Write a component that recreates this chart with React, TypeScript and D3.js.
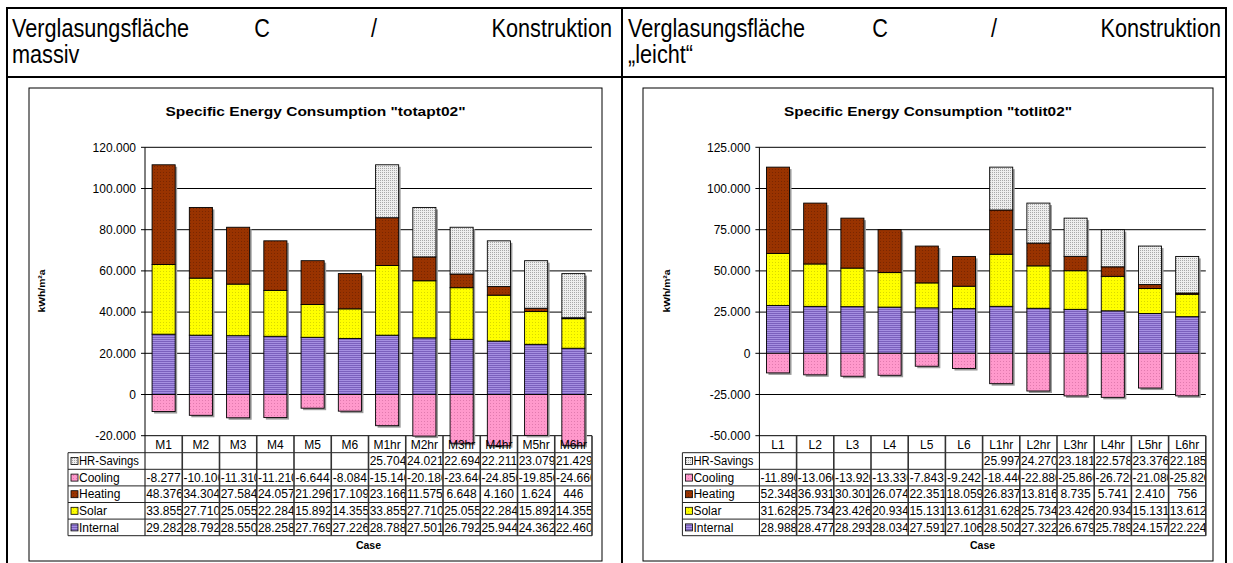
import React from "react";
import * as d3 from "d3";

const seriesNames = ["HR-Savings", "Cooling", "Heating", "Solar", "Internal"];

const leftCases = ["M1", "M2", "M3", "M4", "M5", "M6", "M1hr", "M2hr", "M3hr", "M4hr", "M5hr", "M6hr"];
const leftHR = [null, null, null, null, null, null, 25704, 24021, 22694, 22211, 23079, 21429];
const leftCooling = [-8277, -10100, -11310, -11210, -6644, -8084, -15140, -20180, -23640, -24850, -19850, -24660];
const leftHeating = [48376, 34304, 27584, 24057, 21296, 17109, 23166, 11575, 6648, 4160, 1624, 446];
const leftSolar = [33855, 27710, 25055, 22284, 15892, 14355, 33855, 27710, 25055, 22284, 15892, 14355];
const leftInternal = [29282, 28792, 28550, 28258, 27769, 27226, 28788, 27501, 26792, 25944, 24362, 22460];
const leftTicks = [-20000, 0, 20000, 40000, 60000, 80000, 100000, 120000];

const rightCases = ["L1", "L2", "L3", "L4", "L5", "L6", "L1hr", "L2hr", "L3hr", "L4hr", "L5hr", "L6hr"];
const rightHR = [null, null, null, null, null, null, 25997, 24270, 23181, 22578, 23376, 22185];
const rightCooling = [-11890, -13060, -13920, -13330, -7843, -9242, -18440, -22880, -25860, -26720, -21080, -25820];
const rightHeating = [52348, 36931, 30301, 26074, 22351, 18059, 26837, 13816, 8735, 5741, 2410, 756];
const rightSolar = [31628, 25734, 23426, 20934, 15131, 13612, 31628, 25734, 23426, 20934, 15131, 13612];
const rightInternal = [28988, 28477, 28293, 28034, 27591, 27106, 28502, 27322, 26679, 25789, 24157, 22224];
const rightTicks = [-50000, -25000, 0, 25000, 50000, 75000, 100000, 125000];

const locale = d3.formatLocale({ decimal: ",", thousands: ".", grouping: [3], currency: ["", "€"], minus: "-" });
const fmt = locale.format(",");

const FONT = "Arial, 'Liberation Sans', Helvetica, sans-serif";
const fills = ["url(#pHR)", "url(#pCool)", "url(#pHeat)", "url(#pSolar)", "url(#pInt)"];
const TFS = 12;

function estWidth(s: string, fs: number) {
  let w = 0;
  for (const ch of s) {
    if (ch === "." || ch === ",") w += 0.278;
    else if (ch === "-") w += 0.333;
    else w += 0.556;
  }
  return w * fs;
}

function Patterns() {
  return (
    <defs>
      <pattern id="pInt" width="4" height="2" patternUnits="userSpaceOnUse">
        <rect width="4" height="2" fill="#a690e2" />
        <rect y="1" width="4" height="1" fill="#7b60bd" />
      </pattern>
      <pattern id="pSolar" width="3" height="3" patternUnits="userSpaceOnUse">
        <rect width="3" height="3" fill="#ffff00" />
        <rect x="1" y="1" width="1" height="1" fill="#d8d800" />
      </pattern>
      <pattern id="pHeat" width="3" height="3" patternUnits="userSpaceOnUse">
        <rect width="3" height="3" fill="#993300" />
        <rect x="1" y="1" width="1" height="1" fill="#7a2600" />
      </pattern>
      <pattern id="pCool" width="3" height="3" patternUnits="userSpaceOnUse">
        <rect width="3" height="3" fill="#ff99cc" />
        <rect x="1" y="1" width="1" height="1" fill="#e07aae" />
      </pattern>
      <pattern id="pHR" width="2" height="2" patternUnits="userSpaceOnUse">
        <rect width="2" height="2" fill="#eeeeee" />
        <rect x="0" y="0" width="1" height="1" fill="#a8a8a8" />
      </pattern>
    </defs>
  );
}

type ChartProps = {
  id: string;
  frameX: number;
  frameW: number;
  plotL: number;
  plotR: number;
  title: string;
  titleLen: number;
  yLabelX: number;
  cases: string[];
  hr: (number | null)[];
  cooling: number[];
  heating: number[];
  solar: number[];
  internal: number[];
  ticks: number[];
};

function Chart(p: ChartProps) {
  const frameY = 88;
  const frameH = 473;
  const plotT = 147.3;
  const plotB = 435.7;
  const y = d3.scaleLinear().domain([p.ticks[0], p.ticks[p.ticks.length - 1]]).range([plotB, plotT]);
  const xb = d3.scaleBand().domain(p.cases).range([p.plotL, p.plotR]).paddingInner(0.38).paddingOuter(0.19);
  const xc = d3.scaleBand().domain(p.cases).range([p.plotL, p.plotR]).padding(0);
  const rowH = 16.6;
  const headB = 452.7;
  const legendL = p.plotL - 77;
  const rows = [p.hr, p.cooling, p.heating, p.solar, p.internal];
  const tableB = headB + rowH * 5;
  const cx = (p.plotL + p.plotR) / 2;
  const cw = xc.bandwidth();

  const stacks = p.cases.map((c, i) => {
    const segs: { y0: number; y1: number; f: string }[] = [];
    let base = 0;
    const pos = [p.internal[i], p.solar[i], p.heating[i], p.hr[i] ?? 0];
    const pf = [fills[4], fills[3], fills[2], fills[0]];
    pos.forEach((v, k) => {
      if (v > 0) {
        segs.push({ y0: base, y1: base + v, f: pf[k] });
        base += v;
      }
    });
    segs.push({ y0: p.cooling[i], y1: 0, f: fills[1] });
    return { c, segs, top: base, bottom: p.cooling[i] };
  });

  return (
    <g fontFamily={FONT}>
      <defs>
        {p.cases.map((c, i) => (
          <clipPath key={c} id={`clip-${p.id}-${i}`}>
            <rect x={xc(c)! + 1} y={headB} width={cw - 1.8} height={rowH * 5} />
          </clipPath>
        ))}
      </defs>
      <rect x={p.frameX} y={frameY} width={p.frameW} height={frameH} fill="#fff" stroke="#000" strokeWidth={1} />
      <text x={(p.frameX * 2 + p.frameW) / 2} y={116} textAnchor="middle" fontWeight="bold" fontSize={13}
        textLength={p.titleLen} lengthAdjust="spacingAndGlyphs">{p.title}</text>
      <text transform={`translate(${p.yLabelX},291) rotate(-90)`} textAnchor="middle" dy="0.35em" fontWeight="bold"
        fontSize={9.5} textLength={43} lengthAdjust="spacingAndGlyphs">kWh/m²a</text>

      {p.ticks.map((t) => (
        <g key={t}>
          <line x1={p.plotL - 4} x2={p.plotR} y1={y(t)} y2={y(t)} stroke="#000" strokeWidth={1} />
          <text x={p.plotL - 9} y={y(t)} dy="0.35em" textAnchor="end" fontSize={TFS}>{fmt(t)}</text>
        </g>
      ))}
      <line x1={p.plotL} x2={p.plotL} y1={plotT} y2={tableB} stroke="#000" strokeWidth={1} />

      {/* bar shadows */}
      {stacks.map((s) => (
        <rect key={"sh" + s.c} x={xb(s.c)! + 2} width={xb.bandwidth()} y={y(s.top) + 2}
          height={y(s.bottom) - y(s.top)} fill="#9a9a9a" />
      ))}
      {/* bars */}
      {stacks.map((s) => (
        <g key={s.c}>
          {s.segs.map((g, k) => (
            <rect key={k} x={xb(s.c)} width={xb.bandwidth()} y={y(g.y1)} height={Math.max(0, y(g.y0) - y(g.y1))}
              fill={g.f} stroke="#000" strokeWidth={0.9} />
          ))}
        </g>
      ))}

      {/* table */}
      {[0, 1, 2, 3, 4, 5].map((r) => (
        <line key={r} x1={legendL} x2={p.plotR} y1={headB + r * rowH} y2={headB + r * rowH} stroke="#222" strokeWidth={1} />
      ))}
      <line x1={legendL} x2={legendL} y1={headB} y2={tableB} stroke="#222" strokeWidth={1} />
      {p.cases.map((c) => (
        <line key={c} x1={xc(c)! + cw} x2={xc(c)! + cw} y1={plotB} y2={tableB}
          stroke="#333" strokeWidth={1.6} />
      ))}
      {p.cases.map((c) => (
        <text key={c} x={xc(c)! + cw / 2} y={plotB + 8.6} dy="0.35em" textAnchor="middle" fontSize={TFS}>{c}</text>
      ))}
      {seriesNames.map((s, r) => (
        <g key={s}>
          <rect x={legendL + 3} y={headB + r * rowH + rowH / 2 - 3.5} width={7} height={7} fill={fills[r]} stroke="#000" strokeWidth={0.8} />
          <text x={legendL + 11} y={headB + r * rowH + rowH / 2} dy="0.35em" fontSize={TFS}
            textLength={estWidth(s, TFS) > 60 ? 60 : undefined} lengthAdjust="spacingAndGlyphs">{s}</text>
        </g>
      ))}
      {rows.map((vals, r) =>
        p.cases.map((c, i) => {
          const v = vals[i];
          if (v === null || v === undefined) return null;
          const s = fmt(v);
          const over = estWidth(s, TFS) > cw - 1;
          return (
            <text key={`${r}-${c}`} clipPath={`url(#clip-${p.id}-${i})`}
              x={over ? xc(c)! + 1.2 : xc(c)! + cw / 2}
              y={headB + r * rowH + rowH / 2} dy="0.35em" textAnchor={over ? "start" : "middle"} fontSize={TFS}>{s}</text>
          );
        })
      )}
      <text x={cx} y={545} dy="0.35em" textAnchor="middle" fontWeight="bold" fontSize={10.5}>Case</text>
    </g>
  );
}

const HS = 0.85;

export default function App() {
  return (
    <svg width={1233} height={563} style={{ position: "absolute", left: 0, top: 0, background: "#fff" }}>
      <Patterns />
      <rect width={1233} height={563} fill="#fff" />
      <g fontFamily={FONT} fontSize={25.5} transform={`scale(${HS},1)`}>
        <text x={12 / HS} y={37}>Verglasungsfläche</text>
        <text x={262 / HS} y={37} textAnchor="middle">C</text>
        <text x={374 / HS} y={37} textAnchor="middle">/</text>
        <text x={612 / HS} y={37} textAnchor="end">Konstruktion</text>
        <text x={12 / HS} y={63}>massiv</text>
        <text x={628 / HS} y={37}>Verglasungsfläche</text>
        <text x={880 / HS} y={37} textAnchor="middle">C</text>
        <text x={994 / HS} y={37} textAnchor="middle">/</text>
        <text x={1221 / HS} y={37} textAnchor="end">Konstruktion</text>
        <text x={628 / HS} y={63}>„leicht“</text>
      </g>
      <line x1={6} x2={1227} y1={8} y2={8} stroke="#000" strokeWidth={2} />
      <line x1={6} x2={1227} y1={77} y2={77} stroke="#000" strokeWidth={2} />
      <line x1={7} x2={7} y1={7} y2={563} stroke="#000" strokeWidth={2} />
      <line x1={622} x2={622} y1={7} y2={563} stroke="#000" strokeWidth={2} />
      <line x1={1226} x2={1226} y1={7} y2={563} stroke="#000" strokeWidth={2} />

      <Chart id="l" frameX={29} frameW={573} plotL={145} plotR={592} title={'Specific Energy Consumption "totapt02"'}
        titleLen={300} yLabelX={41.5} cases={leftCases} hr={leftHR} cooling={leftCooling} heating={leftHeating}
        solar={leftSolar} internal={leftInternal} ticks={leftTicks} />
      <Chart id="r" frameX={643} frameW={570} plotL={759.4} plotR={1205.8} title={'Specific Energy Consumption "totlit02"'}
        titleLen={288} yLabelX={666.5} cases={rightCases} hr={rightHR} cooling={rightCooling} heating={rightHeating}
        solar={rightSolar} internal={rightInternal} ticks={rightTicks} />
    </svg>
  );
}
